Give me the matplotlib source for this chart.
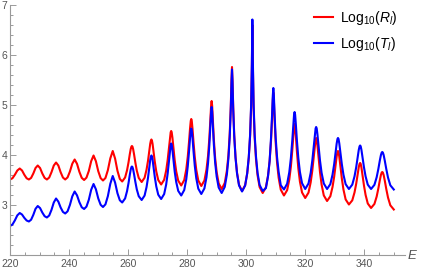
import matplotlib
matplotlib.use("Agg")
import matplotlib.pyplot as plt
from matplotlib.ticker import MultipleLocator

# energy samples (shared by both curves)
energy = [
    220.0, 220.83, 221.65, 222.48, 223.3, 224.08, 224.85, 225.63,
    226.4, 227.15, 227.9, 228.65, 229.4, 230.18, 230.95, 231.73,
    232.5, 233.28, 234.05, 234.83, 235.6, 236.38, 237.15, 237.93,
    238.7, 239.5, 240.3, 241.1, 241.9, 242.7, 243.5, 244.3,
    245.1, 245.9, 246.7, 247.5, 248.3, 249.1, 249.9, 250.7,
    251.5, 252.33, 253.15, 253.98, 254.8, 255.6, 256.4, 257.2,
    258.0, 258.99, 259.65, 260.15, 260.57, 260.9, 261.14, 261.3, 261.47, 261.7, 262.03, 262.46, 262.95, 263.61,
    264.6, 265.59, 266.25, 266.75, 267.17, 267.5, 267.74, 267.9, 268.07, 268.3, 268.63, 269.06, 269.55, 270.21,
    271.2, 272.22, 272.9, 273.41, 273.85, 274.19, 274.43, 274.6, 274.77, 275.01, 275.35, 275.79, 276.3, 276.98,
    278.0, 279.02, 279.7, 280.21, 280.65, 280.99, 281.23, 281.4, 281.57, 281.81, 282.15, 282.59, 283.1, 283.78,
    284.8, 285.85, 286.55, 287.08, 287.53, 287.88, 288.13, 288.3, 288.47, 288.71, 289.05, 289.49, 290.0, 290.68,
    291.7, 292.75, 293.45, 293.98, 294.43, 294.78, 295.03, 295.2, 295.37, 295.61, 295.95, 296.39, 296.9, 297.58,
    298.6, 299.65, 300.35, 300.88, 301.33, 301.68, 301.93, 302.1, 302.28, 302.52, 302.87, 303.33, 303.85, 304.55,
    305.6, 306.68, 307.4, 307.94, 308.41, 308.77, 309.02, 309.2, 309.38, 309.63, 309.99, 310.46, 311.0, 311.72,
    312.8, 313.88, 314.6, 315.14, 315.61, 315.97, 316.22, 316.4, 316.58, 316.83, 317.19, 317.66, 318.2, 318.92,
    320.0, 321.11, 321.85, 322.41, 322.89, 323.26, 323.52, 323.7, 323.89, 324.14, 324.51, 325.0, 325.55, 326.29,
    327.4, 328.51, 329.25, 329.81, 330.29, 330.66, 330.92, 331.1, 331.29, 331.54, 331.91, 332.4, 332.95, 333.69,
    334.8, 335.94, 336.7, 337.27, 337.76, 338.14, 338.41, 338.6, 338.79, 339.04, 339.41, 339.9, 340.45, 341.19,
    342.3, 343.44, 344.2, 344.77, 345.26, 345.64, 345.91, 346.1, 346.3, 346.57, 346.96, 347.47, 348.05, 348.83,
    350.0,
]

log_r = [
    3.51, 3.535, 3.605, 3.69, 3.73, 3.69, 3.605, 3.535,
    3.51, 3.542, 3.63, 3.74, 3.79, 3.74, 3.63, 3.542,
    3.51, 3.549, 3.656, 3.789, 3.85, 3.789, 3.656, 3.549,
    3.51, 3.552, 3.67, 3.826, 3.91, 3.824, 3.664, 3.543,
    3.50, 3.547, 3.681, 3.877, 3.99, 3.875, 3.675, 3.538,
    3.49, 3.54, 3.697, 3.933, 4.08, 3.928, 3.684, 3.522,
    3.47, 3.55, 3.695, 3.854, 4.013, 4.122, 4.169, 4.18, 4.169, 4.121, 4.011, 3.85, 3.688, 3.541,
    3.46, 3.545, 3.707, 3.885, 4.081, 4.225, 4.294, 4.31, 4.293, 4.22, 4.067, 3.86, 3.671, 3.50,
    3.41, 3.505, 3.688, 3.903, 4.15, 4.353, 4.455, 4.48, 4.455, 4.35, 4.144, 3.893, 3.673, 3.487,
    3.39, 3.499, 3.709, 3.965, 4.268, 4.534, 4.683, 4.72, 4.683, 4.532, 4.264, 3.959, 3.702, 3.49,
    3.38, 3.489, 3.706, 3.98, 4.339, 4.721, 4.995, 5.08, 4.992, 4.709, 4.313, 3.941, 3.658, 3.433,
    3.32, 3.442, 3.681, 3.993, 4.428, 4.967, 5.509, 5.76, 5.505, 4.954, 4.406, 3.964, 3.647, 3.404,
    3.28, 3.396, 3.632, 3.944, 4.376, 4.957, 5.753, 6.60, 5.743, 4.937, 4.349, 3.912, 3.596, 3.358,
    3.24, 3.355, 3.586, 3.879, 4.271, 4.721, 5.101, 5.25, 5.098, 4.708, 4.247, 3.845, 3.544, 3.307,
    3.19, 3.297, 3.507, 3.766, 4.087, 4.39, 4.571, 4.62, 4.57, 4.382, 4.068, 3.736, 3.469, 3.251,
    3.14, 3.247, 3.452, 3.693, 3.97, 4.197, 4.312, 4.34, 4.311, 4.19, 3.952, 3.661, 3.408, 3.192,
    3.08, 3.175, 3.36, 3.567, 3.797, 3.974, 4.06, 4.08, 4.059, 3.967, 3.777, 3.531, 3.31, 3.112,
    3.01, 3.093, 3.251, 3.425, 3.616, 3.757, 3.824, 3.84, 3.823, 3.75, 3.597, 3.39, 3.201, 3.03,
    2.94, 3.021, 3.168, 3.33, 3.491, 3.601, 3.649, 3.66, 3.649, 3.599, 3.484, 3.316, 3.148, 2.994,
    2.91,
]

log_t = [
    2.58, 2.61, 2.692, 2.793, 2.84, 2.809, 2.743, 2.69,
    2.67, 2.706, 2.803, 2.924, 2.98, 2.939, 2.849, 2.776,
    2.75, 2.79, 2.902, 3.05, 3.13, 3.067, 2.95, 2.862,
    2.83, 2.874, 3.002, 3.173, 3.27, 3.193, 3.057, 2.955,
    2.92, 2.968, 3.105, 3.305, 3.42, 3.314, 3.13, 3.004,
    2.96, 3.013, 3.177, 3.425, 3.58, 3.448, 3.235, 3.095,
    3.05, 3.131, 3.278, 3.44, 3.601, 3.711, 3.759, 3.77, 3.76, 3.715, 3.613, 3.463, 3.312, 3.175,
    3.10, 3.189, 3.358, 3.545, 3.75, 3.901, 3.973, 3.99, 3.974, 3.903, 3.755, 3.555, 3.372, 3.207,
    3.12, 3.219, 3.409, 3.632, 3.888, 4.098, 4.204, 4.23, 4.206, 4.106, 3.91, 3.669, 3.46, 3.283,
    3.19, 3.30, 3.512, 3.769, 4.074, 4.342, 4.493, 4.53, 4.493, 4.347, 4.085, 3.786, 3.534, 3.327,
    3.22, 3.331, 3.554, 3.834, 4.201, 4.593, 4.873, 4.96, 4.874, 4.597, 4.21, 3.847, 3.57, 3.35,
    3.24, 3.363, 3.606, 3.922, 4.361, 4.907, 5.456, 5.71, 5.459, 4.917, 4.378, 3.943, 3.631, 3.392,
    3.27, 3.39, 3.635, 3.958, 4.405, 5.007, 5.833, 6.71, 5.835, 5.012, 4.412, 3.966, 3.644, 3.40,
    3.28, 3.337, 3.574, 3.875, 4.337, 4.798, 5.188, 5.34, 5.19, 4.806, 4.351, 3.956, 3.659, 3.396,
    3.31, 3.426, 3.654, 3.935, 4.282, 4.61, 4.807, 4.86, 4.808, 4.612, 4.286, 3.941, 3.662, 3.436,
    3.32, 3.43, 3.642, 3.892, 4.178, 4.412, 4.532, 4.56, 4.532, 4.412, 4.178, 3.892, 3.642, 3.43,
    3.32, 3.417, 3.606, 3.817, 4.051, 4.232, 4.32, 4.34, 4.32, 4.232, 4.051, 3.817, 3.606, 3.417,
    3.32, 3.407, 3.572, 3.755, 3.955, 4.103, 4.174, 4.19, 4.174, 4.103, 3.955, 3.755, 3.572, 3.407,
    3.32, 3.403, 3.555, 3.72, 3.886, 3.999, 4.049, 4.06, 4.049, 3.999, 3.884, 3.716, 3.548, 3.394,
    3.31,
]

x_ticks = [220, 240, 260, 280, 300, 320, 340]
y_ticks = [3, 4, 5, 6, 7]
labels = [r"Log$_{10}$($R_l$)", r"Log$_{10}$($T_l$)"]

plt.rcParams["font.family"] = ["Liberation Sans", "DejaVu Sans"]
plt.rcParams["mathtext.fontset"] = "custom"
plt.rcParams["mathtext.rm"] = "Liberation Sans"
plt.rcParams["mathtext.it"] = "Liberation Sans:italic"

axis_grey = "#9a9a9a"
text_grey = "#555555"

fig = plt.figure(figsize=(4.21, 2.72), dpi=100)
ax = fig.add_axes([10 / 421, 17 / 272, 395 / 421, 250 / 272])

ax.plot(energy, log_r, color="#ff0000", lw=1.5, label=labels[0])
ax.plot(energy, log_t, color="#0000ff", lw=1.5, label=labels[1])

ax.set_xlim(220, 353.8)
ax.set_ylim(2.0, 7.0)
ax.set_xticks(x_ticks)
ax.set_yticks(y_ticks)
ax.xaxis.set_minor_locator(MultipleLocator(5))
ax.yaxis.set_minor_locator(MultipleLocator(0.2))

for side in ["top", "right"]:
    ax.spines[side].set_visible(False)
for side in ["left", "bottom"]:
    ax.spines[side].set_color(axis_grey)
    ax.spines[side].set_linewidth(0.8)

ax.tick_params(which="both", direction="in", colors=axis_grey, labelcolor=text_grey,
               labelsize=7.5, width=0.7)
ax.tick_params(which="major", length=4)
ax.tick_params(which="minor", length=2)
ax.tick_params(axis="y", pad=2)
ax.tick_params(axis="x", pad=3)

fig.text(408 / 421, 1 - 256 / 272, "E", style="italic", fontsize=9.5,
         color=text_grey, ha="left", va="center")

ax.legend(loc="upper left", bbox_to_anchor=(314 / 421, 1 - 9 / 272),
          bbox_transform=fig.transFigure, frameon=False, fontsize=10,
          handlelength=1.35, handletextpad=0.5, labelspacing=0.6,
          borderpad=0, borderaxespad=0)

fig.savefig("out.png", dpi=100)
